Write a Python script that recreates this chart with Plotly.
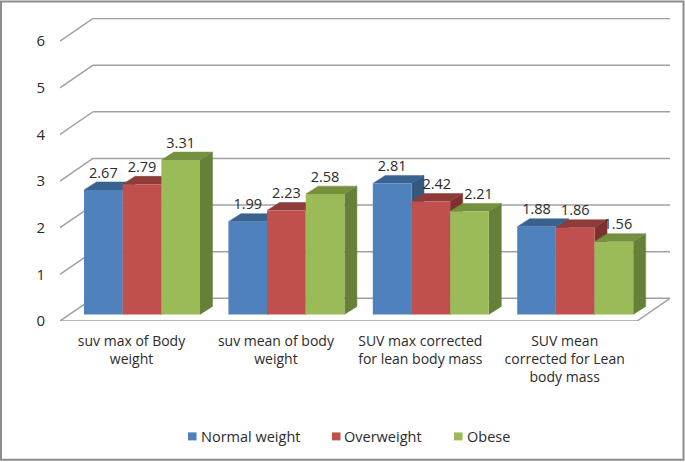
import plotly.graph_objects as go

categories = ["suv max of Body<br>weight", "suv mean of body<br>weight",
              "SUV max corrected<br>for lean body mass",
              "SUV mean<br>corrected for Lean<br>body mass"]
series_names = ["Normal weight", "Overweight", "Obese"]
normal_weight = [2.67, 1.99, 2.81, 1.88]
overweight = [2.79, 2.23, 2.42, 1.86]
obese = [3.31, 2.58, 2.21, 1.56]
y_ticks = [0, 1, 2, 3, 4, 5, 6]

series_values = [normal_weight, overweight, obese]
front_colors = ["#4F81BD", "#C0504D", "#9BBB59"]
top_colors = ["#3A6291", "#8F3B39", "#75903F"]
side_colors = ["#35587F", "#7D302E", "#66803A"]

# layout geometry (pixels of the 685x462 picture)
W, H = 685, 462
PL, PR, PT, PB = 60, 670, 17.5, 321.3
GROUP_PX, UNIT_PX = 144.4, 46.75
CX0, BASE_Y = 142.0, 314.7
BAR_W = 38.67 / GROUP_PX
DX, DY = 12.5 / GROUP_PX, 8.0 / UNIT_PX
FLOOR_DY = (BASE_Y - PB) / UNIT_PX
WALL_DY = (BASE_Y - 298.5) / UNIT_PX
LEFT_F, LEFT_B = (60 - CX0) / GROUP_PX, (93 - CX0) / GROUP_PX
RIGHT_F, RIGHT_B = (637 - CX0) / GROUP_PX, (670 - CX0) / GROUP_PX
LABEL_GAP = 8.0 / UNIT_PX
LABEL_NUDGE = [[0, 0, 0, 0], [0, 0, 6, 0], [0, 0, 9, 4]]
FONT = "Open Sans"
TXT = "#2b2b2b"
GRID = "#a0a0a0"

fig = go.Figure()
xs = list(range(len(categories)))

for s, (name, vals) in enumerate(zip(series_names, series_values)):
    centers = [x + (s - 1) * BAR_W for x in xs]
    side_x, side_y, top_x, top_y = [], [], [], []
    for c, v in zip(centers, vals):
        l, r = c - BAR_W / 2, c + BAR_W / 2
        side_x += [r, r + DX, r + DX, r, None]
        side_y += [0, DY, v + DY, v, None]
        top_x += [l, l + DX, r + DX, r, None]
        top_y += [v, v + DY, v + DY, v, None]
    for fx, fy, col in ((side_x, side_y, side_colors[s]), (top_x, top_y, top_colors[s])):
        fig.add_trace(go.Scatter(x=fx, y=fy, mode="lines", fill="toself", fillcolor=col,
                                 line=dict(color=col, width=0.5), showlegend=False,
                                 hoverinfo="skip", zorder=1 + 2 * s))
    fig.add_trace(go.Bar(x=xs, y=vals, name=name, marker=dict(color=front_colors[s], line_width=0),
                         showlegend=False, zorder=2 + 2 * s))

for s, vals in enumerate(series_values):
    centers = [x + (s - 1) * BAR_W + n / GROUP_PX for x, n in zip(xs, LABEL_NUDGE[s])]
    fig.add_trace(go.Scatter(x=centers, y=[v + DY + LABEL_GAP for v in vals], mode="text",
                             text=[f"{v:.2f}" for v in vals], textposition="middle center",
                             textfont=dict(family=FONT, size=14.5, color=TXT),
                             showlegend=False, hoverinfo="skip", zorder=10))

shapes = []
def seg(x0, y0, x1, y1):
    shapes.append(dict(type="line", xref="x", yref="y", x0=x0, y0=y0, x1=x1, y1=y1,
                       line=dict(color=GRID, width=1.5), layer="below"))
for v in y_ticks:
    seg(LEFT_F, v + FLOOR_DY, LEFT_B, v + WALL_DY)
    seg(LEFT_B, v + WALL_DY, RIGHT_B, v + WALL_DY)
seg(LEFT_F, FLOOR_DY, RIGHT_F, FLOOR_DY)
seg(RIGHT_F, FLOOR_DY, RIGHT_B, WALL_DY)

def px(x):
    return (x - PL) / (PR - PL)
def py(y):
    return (PB - y) / (PB - PT)

# outer frame
shapes.append(dict(type="rect", xref="paper", yref="paper", x0=px(1), x1=px(683.5), y0=py(1), y1=py(460.5),
                   line=dict(color="#8c8c8c", width=2), layer="below"))

annotations = []
legend_pos = [(188, 202), (332, 345), (454, 468)]
for name, col, (mx, tx) in zip(series_names, front_colors, legend_pos):
    shapes.append(dict(type="rect", xref="paper", yref="paper", x0=px(mx), x1=px(mx + 8.5),
                       y0=py(441), y1=py(433), fillcolor=col, line_width=0))
    annotations.append(dict(xref="paper", yref="paper", x=px(tx), y=py(437), text=name, showarrow=False,
                            xanchor="left", yanchor="middle", xshift=-3, font=dict(family=FONT, size=14.5, color=TXT)))

fig.update_layout(
    width=W, height=H, margin=dict(l=PL, r=W - PR, t=PT, b=H - PB, pad=0),
    paper_bgcolor="white", plot_bgcolor="rgba(0,0,0,0)",
    barmode="group", bargap=1 - 3 * BAR_W, bargroupgap=0, showlegend=False,
    shapes=shapes, annotations=annotations,
    xaxis=dict(range=[(PL - CX0) / GROUP_PX, (PR - CX0) / GROUP_PX], showgrid=False, zeroline=False,
               showline=False, tickmode="array", tickvals=[x - 10.5 / GROUP_PX for x in xs], ticktext=categories,
               ticks="", ticklabelstandoff=10, tickangle=0, automargin=False,
               tickfont=dict(family=FONT, size=14, color=TXT)),
    yaxis=dict(range=[(BASE_Y - PB) / UNIT_PX, (BASE_Y - PT) / UNIT_PX], showgrid=False, zeroline=False,
               showline=False, tickmode="array", tickvals=[v + FLOOR_DY for v in y_ticks],
               ticktext=[str(v) for v in y_ticks], ticks="", ticklabelstandoff=14, automargin=False,
               tickfont=dict(family=FONT, size=15, color=TXT)),
)
fig.write_html("out.html", config={"displayModeBar": False},
               post_script="document.body.style.margin='0';document.body.style.overflow='hidden';")
